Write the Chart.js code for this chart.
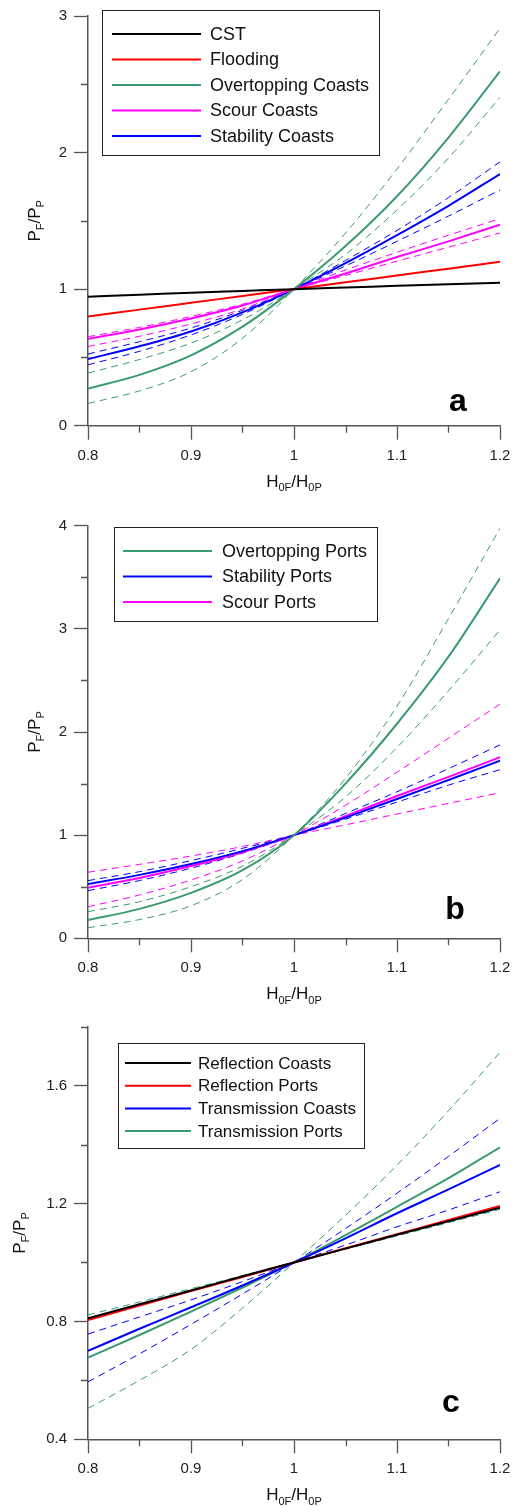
<!DOCTYPE html>
<html>
<head>
<meta charset="utf-8">
<script src="https://cdn.jsdelivr.net/npm/chart.js@4"></script>
<style>
  html, body { margin: 0; padding: 0; background: #fff; }
  .panel { position: absolute; left: 0; width: 518px; }
</style>
</head>
<body>
<div class="panel" style="top:0px"><canvas id="chartA" width="518" height="500"></canvas></div>
<div class="panel" style="top:500px"><canvas id="chartB" width="518" height="510"></canvas></div>
<div class="panel" style="top:1010px"><canvas id="chartC" width="518" height="496"></canvas></div>
<script>
// H0F/H0P values where the curves were read
const hRatio = [0.80, 0.85, 0.90, 0.95, 1.00, 1.05, 1.10, 1.15, 1.20];

// panel a - coasts
const cst          = [0.945, 0.959, 0.974, 0.987, 1.0, 1.012, 1.024, 1.036, 1.047];
const flooding     = [0.800, 0.850, 0.900, 0.950, 1.0, 1.050, 1.100, 1.150, 1.200];
const overCoasts   = [0.272, 0.372, 0.515, 0.725, 1.0, 1.315, 1.680, 2.110, 2.595];
const overCoastsA  = [0.163, 0.255, 0.395, 0.640, 1.0, 1.410, 1.880, 2.390, 2.910];
const overCoastsB  = [0.385, 0.485, 0.605, 0.775, 1.0, 1.255, 1.580, 1.960, 2.405];
const scourCoasts  = [0.635, 0.705, 0.785, 0.880, 1.0, 1.115, 1.235, 1.350, 1.472];
const scourCoastsA = [0.580, 0.655, 0.745, 0.855, 1.0, 1.140, 1.270, 1.395, 1.516];
const scourCoastsB = [0.652, 0.720, 0.800, 0.890, 1.0, 1.100, 1.205, 1.307, 1.411];
const stabCoasts   = [0.488, 0.582, 0.690, 0.830, 1.0, 1.190, 1.395, 1.610, 1.843];
const stabCoastsA  = [0.446, 0.545, 0.665, 0.815, 1.0, 1.210, 1.430, 1.670, 1.932];
const stabCoastsB  = [0.525, 0.615, 0.715, 0.845, 1.0, 1.170, 1.350, 1.535, 1.726];

// panel b - ports
const overPorts    = [0.177, 0.285, 0.440, 0.660, 1.0, 1.500, 2.080, 2.730, 3.490];
const overPortsA   = [0.103, 0.182, 0.315, 0.570, 1.0, 1.550, 2.250, 3.100, 3.975];
const overPortsB   = [0.258, 0.355, 0.500, 0.700, 1.0, 1.370, 1.850, 2.400, 2.990];
const stabPorts    = [0.526, 0.615, 0.720, 0.845, 1.0, 1.170, 1.350, 1.535, 1.722];
const stabPortsA   = [0.462, 0.560, 0.680, 0.825, 1.0, 1.210, 1.420, 1.645, 1.875];
const stabPortsB   = [0.559, 0.646, 0.753, 0.872, 1.0, 1.155, 1.320, 1.485, 1.635];
const scourPorts   = [0.491, 0.585, 0.700, 0.835, 1.0, 1.185, 1.380, 1.565, 1.755];
const scourPortsA  = [0.306, 0.420, 0.565, 0.750, 1.0, 1.290, 1.610, 1.940, 2.270];
const scourPortsB  = [0.640, 0.717, 0.798, 0.890, 1.0, 1.100, 1.205, 1.308, 1.412];

// panel c - reflection / transmission
const reflCoasts   = [0.811, 0.858, 0.905, 0.953, 1.0, 1.047, 1.094, 1.140, 1.186];
const reflPorts    = [0.805, 0.854, 0.903, 0.951, 1.0, 1.048, 1.096, 1.144, 1.192];
const transCoasts  = [0.700, 0.775, 0.848, 0.922, 1.0, 1.082, 1.167, 1.248, 1.331];
const transCoastsA = [0.595, 0.690, 0.790, 0.893, 1.0, 1.115, 1.235, 1.360, 1.489];
const transCoastsB = [0.757, 0.815, 0.873, 0.935, 1.0, 1.059, 1.121, 1.178, 1.240];
const transPorts   = [0.677, 0.754, 0.833, 0.915, 1.0, 1.093, 1.189, 1.286, 1.391];
const transPortsA  = [0.505, 0.600, 0.705, 0.845, 1.0, 1.160, 1.330, 1.515, 1.713];
const transPortsB  = [0.822, 0.866, 0.911, 0.955, 1.0, 1.045, 1.090, 1.135, 1.180];

// axis ticks
const xMajor = [0.8, 0.9, 1.0, 1.1, 1.2];
const xMinor = [0.85, 0.95, 1.05, 1.15];
const yMajorA = [0, 1, 2, 3];
const yMinorA = [0.5, 1.5, 2.5];
const yMajorB = [0, 1, 2, 3, 4];
const yMinorB = [0.5, 1.5, 2.5, 3.5];
const yMajorC = [0.4, 0.8, 1.2, 1.6];
const yMinorC = [0.6, 1.0, 1.4, 1.8];

const GREEN = '#3b9b6d';
const FONT = '"Liberation Sans", Arial, sans-serif';

function pts(ys) {
    return ys.map((y, i) => ({ x: hRatio[i], y: y }));
}
function solid(label, ys, color) {
    return { label: label, data: pts(ys), borderColor: color, borderWidth: 2, pointRadius: 0,
             cubicInterpolationMode: 'monotone', fill: false, order: 0 };
}
function dashed(ys, color) {
    return { label: '', data: pts(ys), borderColor: color, borderWidth: 1, borderDash: [7, 5],
             pointRadius: 0, cubicInterpolationMode: 'monotone', fill: false, order: 1 };
}

function drawSub(ctx, parts, x, y, size) {
    // parts: [text, isSubscript]
    let total = 0;
    parts.forEach(p => {
        ctx.font = (p[1] ? Math.round(size * 0.65) : size) + 'px ' + FONT;
        total += ctx.measureText(p[0]).width;
    });
    let cx = x - total / 2;
    ctx.textAlign = 'left';
    ctx.textBaseline = 'alphabetic';
    parts.forEach(p => {
        ctx.font = (p[1] ? Math.round(size * 0.65) : size) + 'px ' + FONT;
        ctx.fillText(p[0], cx, p[1] ? y + size * 0.25 : y);
        cx += ctx.measureText(p[0]).width;
    });
}

const deco = {
    id: 'deco',
    afterDraw(chart, args, o) {
        const ctx = chart.ctx;
        const area = chart.chartArea;
        const xs = chart.scales.x, ys = chart.scales.y;
        ctx.save();
        // minor ticks
        ctx.strokeStyle = '#555';
        ctx.lineWidth = 1.3;
        ctx.beginPath();
        xMinor.forEach(v => {
            const px = Math.round(xs.getPixelForValue(v)) + 0.5;
            ctx.moveTo(px, area.bottom);
            ctx.lineTo(px, area.bottom + 7);
        });
        o.minorY.forEach(v => {
            const py = Math.round(ys.getPixelForValue(v)) + 0.5;
            ctx.moveTo(area.left - 7, py);
            ctx.lineTo(area.left, py);
        });
        ctx.stroke();

        // legend box
        const lg = o.legend;
        ctx.fillStyle = '#fff';
        ctx.fillRect(lg.x, lg.y, lg.w, lg.h);
        ctx.strokeStyle = '#222';
        ctx.lineWidth = 1;
        ctx.strokeRect(lg.x + 0.5, lg.y + 0.5, lg.w, lg.h);
        let row = 0;
        chart.data.datasets.forEach(ds => {
            if (!ds.label) return;
            const yy = lg.row0 + row * lg.step;
            ctx.strokeStyle = ds.borderColor;
            ctx.lineWidth = 2;
            ctx.beginPath();
            ctx.moveTo(lg.x1, yy);
            ctx.lineTo(lg.x2, yy);
            ctx.stroke();
            ctx.fillStyle = '#111';
            ctx.font = lg.size + 'px ' + FONT;
            ctx.textAlign = 'left';
            ctx.textBaseline = 'middle';
            ctx.fillText(ds.label, lg.tx, yy + 1);
            row++;
        });

        // axis titles
        ctx.fillStyle = '#111';
        drawSub(ctx, [['H', false], ['0F', true], ['/H', false], ['0P', true]],
                (area.left + area.right) / 2, area.bottom + 61, 17);
        ctx.save();
        ctx.translate(o.yTitleX, (area.top + area.bottom) / 2);
        ctx.rotate(-Math.PI / 2);
        drawSub(ctx, [['P', false], ['F', true], ['/P', false], ['P', true]], 0, 0, 17);
        ctx.restore();

        // panel letter
        ctx.fillStyle = '#000';
        ctx.font = 'bold 32px ' + FONT;
        ctx.textAlign = 'center';
        ctx.textBaseline = 'alphabetic';
        ctx.fillText(o.letter, area.right - o.letterDx, area.bottom - o.letterDy);
        ctx.restore();
    }
};

function makeChart(id, datasets, yMin, yMax, yMajor, top, height, deco_opts) {
    const tickFont = { family: FONT, size: 15 };
    return new Chart(document.getElementById(id), {
        type: 'line',
        data: { datasets: datasets },
        plugins: [deco],
        options: {
            responsive: false,
            animation: false,
            devicePixelRatio: 1,
            layout: { padding: { top: top, right: 18, left: 0, bottom: 0 } },
            plugins: { legend: { display: false }, tooltip: { enabled: false }, deco: deco_opts },
            scales: {
                x: {
                    type: 'linear', min: 0.8, max: 1.2,
                    afterBuildTicks: s => { s.ticks = xMajor.map(v => ({ value: v })); },
                    afterFit: s => { s.height = height - deco_opts.plotBottom; },
                    ticks: { font: tickFont, color: '#222', padding: 7, maxRotation: 0,
                             callback: v => String(Math.round(v * 100) / 100) },
                    grid: { drawOnChartArea: false, tickLength: 14, tickColor: '#555', tickWidth: 1.3 },
                    border: { color: '#555', width: 1.5 }
                },
                y: {
                    type: 'linear', min: yMin, max: yMax,
                    afterBuildTicks: s => { s.ticks = yMajor.map(v => ({ value: v })); },
                    afterFit: s => { s.width = 88; },
                    ticks: { font: tickFont, color: '#222', padding: 7,
                             callback: v => String(Math.round(v * 100) / 100) },
                    grid: { drawOnChartArea: false, tickLength: 14, tickColor: '#555', tickWidth: 1.3 },
                    border: { color: '#555', width: 1.5 }
                }
            }
        }
    });
}

makeChart('chartA', [
    dashed(overCoastsA, GREEN), dashed(overCoastsB, GREEN),
    dashed(scourCoastsA, '#ff00ff'), dashed(scourCoastsB, '#ff00ff'),
    dashed(stabCoastsA, '#0000ff'), dashed(stabCoastsB, '#0000ff'),
    solid('CST', cst, '#000000'),
    solid('Flooding', flooding, '#ff0000'),
    solid('Overtopping Coasts', overCoasts, GREEN),
    solid('Scour Coasts', scourCoasts, '#ff00ff'),
    solid('Stability Coasts', stabCoasts, '#0000ff')
], 0, 3, yMajorA, 13.3, 500, {
    plotBottom: 425.7, minorY: yMinorA, yTitleX: 40, letter: 'a', letterDx: 42, letterDy: 15,
    legend: { x: 102, y: 10, w: 277, h: 145, row0: 34, step: 25.5, x1: 112, x2: 201, tx: 210, size: 18 }
});

makeChart('chartB', [
    dashed(overPortsA, GREEN), dashed(overPortsB, GREEN),
    dashed(stabPortsA, '#0000ff'), dashed(stabPortsB, '#0000ff'),
    dashed(scourPortsA, '#ff00ff'), dashed(scourPortsB, '#ff00ff'),
    solid('Overtopping Ports', overPorts, GREEN),
    solid('Stability Ports', stabPorts, '#0000ff'),
    solid('Scour Ports', scourPorts, '#ff00ff')
], 0, 4, yMajorB, 25.7, 510, {
    plotBottom: 438.3, minorY: yMinorB, yTitleX: 40, letter: 'b', letterDx: 45, letterDy: 19,
    legend: { x: 114, y: 27, w: 263, h: 94, row0: 51, step: 25.5, x1: 123, x2: 212, tx: 222, size: 18 }
});

makeChart('chartC', [
    dashed(transCoastsA, '#0000ff'), dashed(transCoastsB, '#0000ff'),
    dashed(transPortsA, GREEN), dashed(transPortsB, GREEN),
    solid('Reflection Coasts', reflCoasts, '#000000'),
    solid('Reflection Ports', reflPorts, '#ff0000'),
    solid('Transmission Coasts', transCoasts, '#0000ff'),
    solid('Transmission Ports', transPorts, GREEN)
], 0.4, 1.8, yMajorC, 16.7, 496, {
    plotBottom: 429.3, minorY: yMinorC, yTitleX: 25, letter: 'c', letterDx: 49, letterDy: 27,
    legend: { x: 118, y: 33, w: 246, h: 105, row0: 53, step: 22.7, x1: 125, x2: 191, tx: 198, size: 17 }
});
</script>
</body>
</html>
